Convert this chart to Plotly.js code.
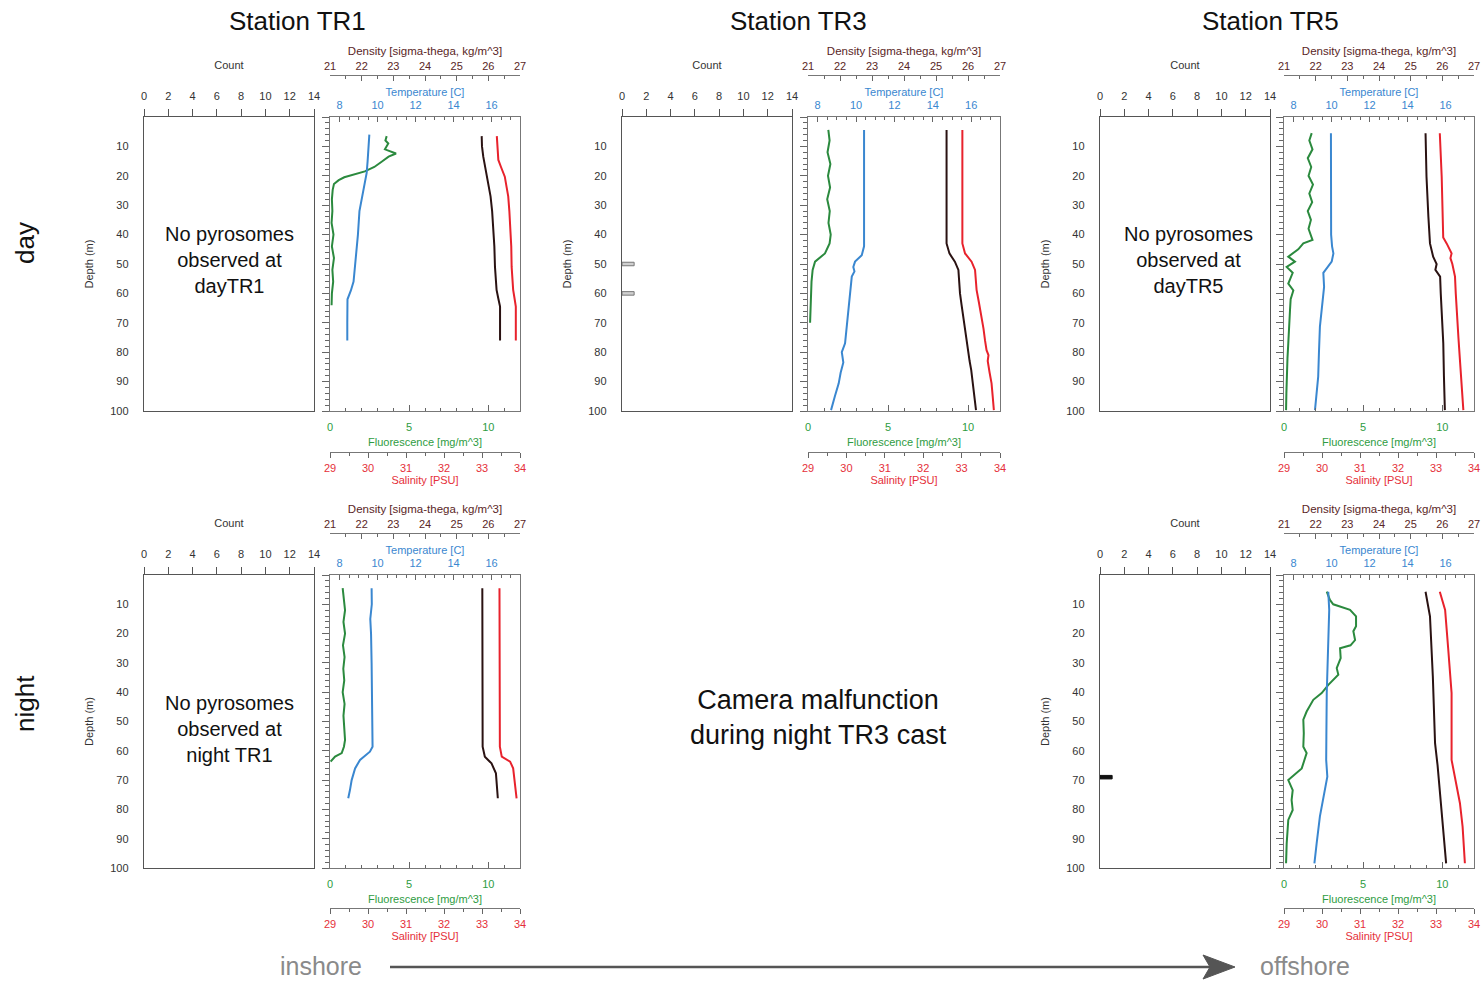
<!DOCTYPE html>
<html><head><meta charset="utf-8">
<script src="https://cdn.plot.ly/plotly-3.0.1.min.js"></script>
<style>html,body{margin:0;padding:0;background:#fff}#chart{width:1484px;height:981px}</style>
</head><body><div id="chart"></div><script>
// ---------------- DATA ----------------
const stations = ['Station TR1', 'Station TR3', 'Station TR5'];
const countTicks = [0, 2, 4, 6, 8, 10, 12, 14];
const depthTicks = [10, 20, 30, 40, 50, 60, 70, 80, 90, 100];

// Day TR1
const dayTR1_fluoDepth = [6.5, 8, 9, 10, 11, 12.4, 13.5, 15.2, 17, 18.5, 19.5, 20.5, 21.5, 22.8, 24.8, 28, 32, 36, 40, 44, 48, 52, 56, 60, 64];
const dayTR1_fluo      = [3.58, 3.5, 3.68, 3.55, 3.47, 4.17, 3.7, 3.26, 2.8, 2.2, 1.6, 0.9, 0.55, 0.25, 0.17, 0.12, 0.15, 0.1, 0.22, 0.12, 0.25, 0.15, 0.2, 0.12, 0.1];
const dayTR1_tempDepth = [6, 10, 15, 19, 25, 32, 40, 50, 56, 59, 62, 70, 76];
const dayTR1_temp      = [9.57, 9.54, 9.48, 9.43, 9.25, 9.05, 8.97, 8.85, 8.74, 8.6, 8.42, 8.41, 8.41];
const dayTR1_densDepth = [6.5, 10, 13.5, 17, 20.3, 24, 27, 32, 37.3, 44, 51, 55, 58.8, 62, 64.5, 70, 76];
const dayTR1_dens      = [25.79, 25.8, 25.84, 25.9, 25.95, 26.02, 26.07, 26.12, 26.16, 26.19, 26.21, 26.23, 26.26, 26.32, 26.37, 26.37, 26.37];
const dayTR1_salDepth  = [6.5, 10, 14.6, 17, 20.3, 24, 27, 32, 37.3, 44, 51, 55, 58.8, 62, 64.5, 70, 76];
const dayTR1_sal       = [33.39, 33.4, 33.43, 33.5, 33.6, 33.65, 33.69, 33.72, 33.75, 33.77, 33.78, 33.8, 33.82, 33.86, 33.89, 33.89, 33.89];

// Day TR3
const dayTR3_fluoDepth = [4.4, 8, 12, 16, 20, 24, 28, 32, 36, 40, 43, 46.4, 49.2, 52, 56, 61, 66, 70];
const dayTR3_fluo      = [1.27, 1.35, 1.22, 1.4, 1.25, 1.38, 1.2, 1.36, 1.28, 1.42, 1.35, 1.06, 0.44, 0.29, 0.22, 0.19, 0.15, 0.13];
const dayTR3_tempDepth = [4.4, 20, 44, 47, 49.2, 51, 52.5, 54.3, 60, 65.6, 72, 77, 80, 83.5, 87, 90.6, 95, 99.7];
const dayTR3_temp      = [10.42, 10.42, 10.42, 10.3, 9.95, 9.86, 9.92, 9.78, 9.7, 9.6, 9.5, 9.43, 9.26, 9.34, 9.2, 9.1, 8.9, 8.7];
const dayTR3_densDepth = [4.4, 43, 46.4, 49.2, 52, 56, 60, 64, 68, 72, 76, 79.3, 83, 86, 90, 95, 99.7];
const dayTR3_dens      = [25.33, 25.33, 25.42, 25.59, 25.7, 25.72, 25.75, 25.8, 25.85, 25.9, 25.96, 26.01, 26.05, 26.1, 26.15, 26.2, 26.25];
const dayTR3_salDepth  = [4.4, 43, 46.4, 49.2, 52, 55, 58.8, 63, 68, 72, 76, 79.3, 81, 83, 87, 90.6, 95, 99.7];
const dayTR3_sal       = [33.02, 33.02, 33.09, 33.26, 33.35, 33.37, 33.39, 33.45, 33.52, 33.57, 33.61, 33.65, 33.7, 33.68, 33.73, 33.78, 33.81, 33.84];
const dayTR3_countDepth = [50, 60];
const dayTR3_count      = [1, 1];

// Day TR5
const dayTR5_fluoDepth = [5.5, 8, 11, 14, 17, 20, 23, 26, 29, 32, 35, 38, 41.8, 43, 45, 47.5, 49.2, 51, 53, 56.7, 59, 62, 65.6, 70, 74, 77, 82, 88, 94, 99.7];
const dayTR5_fluo      = [1.75, 1.6, 1.8, 1.5, 1.72, 1.55, 1.83, 1.6, 1.78, 1.5, 1.7, 1.55, 1.8, 1.22, 0.9, 0.27, 0.69, 0.17, 0.55, 0.27, 0.59, 0.42, 0.38, 0.35, 0.3, 0.27, 0.22, 0.17, 0.15, 0.13];
const dayTR5_tempDepth = [5.5, 20, 40, 44, 46.4, 49.2, 51.5, 53, 57.8, 65, 71.3, 80, 88.3, 95, 99.7];
const dayTR5_temp      = [9.97, 9.98, 9.98, 10.03, 10.1, 10.01, 9.75, 9.57, 9.61, 9.5, 9.39, 9.34, 9.3, 9.2, 9.13];
const dayTR5_densDepth = [5.5, 20.3, 34, 43, 47.5, 50, 52, 54.3, 60, 65.6, 77, 88, 99.7];
const dayTR5_dens      = [25.47, 25.5, 25.56, 25.61, 25.71, 25.82, 25.78, 25.93, 25.95, 25.98, 26.03, 26.05, 26.08];
const dayTR5_salDepth  = [5.5, 20.3, 41, 43, 46.4, 48, 50, 52, 54.3, 60, 65.6, 75, 82.7, 90, 99.7];
const dayTR5_sal       = [33.1, 33.15, 33.19, 33.28, 33.41, 33.38, 33.43, 33.47, 33.5, 33.52, 33.54, 33.59, 33.63, 33.67, 33.72];

// Night TR1
const nightTR1_fluoDepth = [4.5, 8, 12, 16, 20, 24, 28, 32, 36, 40, 44, 48, 52, 56.3, 58.6, 60.8, 62, 63.7];
const nightTR1_fluo      = [0.8, 0.88, 0.95, 0.85, 0.95, 0.82, 0.92, 0.84, 0.9, 0.8, 0.92, 0.85, 0.88, 0.95, 0.88, 0.74, 0.32, 0.04];
const nightTR1_tempDepth = [4.5, 10, 15, 20, 30, 40, 50, 58.6, 60.3, 61.5, 63.1, 66, 70, 73.4, 76.2];
const nightTR1_temp      = [9.69, 9.7, 9.62, 9.66, 9.69, 9.7, 9.72, 9.74, 9.6, 9.35, 9.08, 8.82, 8.64, 8.55, 8.46];
const nightTR1_densDepth = [4.5, 30, 58.6, 62, 64.3, 67.7, 74.5, 76.2];
const nightTR1_dens      = [25.81, 25.81, 25.82, 25.89, 26.1, 26.24, 26.29, 26.3];
const nightTR1_salDepth  = [4.5, 30, 58.6, 62, 63.7, 66, 70, 74.5, 76.2];
const nightTR1_sal       = [33.46, 33.46, 33.47, 33.52, 33.74, 33.82, 33.86, 33.89, 33.91];

// Night TR5
const nightTR5_fluoDepth = [5.7, 8.5, 10, 11.9, 14.1, 17.5, 19.2, 22.2, 24, 25, 28.4, 31.8, 34, 37.5, 40.3, 42.6, 46.6, 49.4, 54, 58.6, 60.8, 64.3, 66, 70, 73.4, 76.8, 80.2, 83.6, 87, 91.6, 95, 98.4];
const nightTR5_fluo      = [2.7, 2.9, 3.11, 4.17, 4.55, 4.55, 4.38, 4.49, 4.2, 3.54, 3.58, 3.33, 3.43, 2.8, 2.38, 1.85, 1.43, 1.22, 1.25, 1.22, 1.43, 1.22, 1.12, 0.27, 0.55, 0.48, 0.55, 0.27, 0.22, 0.17, 0.15, 0.13];
const nightTR5_tempDepth = [5.7, 11.9, 25, 40.3, 55, 63.1, 68.8, 74.5, 82.4, 91.5, 98.4];
const nightTR5_temp      = [9.83, 9.88, 9.82, 9.75, 9.73, 9.72, 9.78, 9.6, 9.39, 9.22, 9.1];
const nightTR5_densDepth = [5.7, 14.1, 34.6, 57.4, 65, 74.5, 85.9, 98.4];
const nightTR5_dens      = [25.47, 25.61, 25.7, 25.77, 25.85, 25.93, 26.03, 26.12];
const nightTR5_salDepth  = [5.7, 11.9, 25, 40.3, 63.1, 68.8, 77.9, 85.9, 98.4];
const nightTR5_sal       = [33.1, 33.24, 33.32, 33.41, 33.41, 33.5, 33.63, 33.7, 33.76];
const nightTR5_countDepth = [69];
const nightTR5_count      = [1];

// ---------------- LAYOUT ----------------
const W = 1484, H = 981;
const FONT = '"Liberation Sans", Arial, sans-serif';
const LC = {dens: '#2a1212', temp: '#3a87d0', fluo: '#2b8a3e', sal: '#e8222c'};
const TC = {dens: '#5a2626', temp: '#3a87d0', fluo: '#2e9c42', sal: '#e5303a'};
const px = v => v / W, py = v => 1 - v / H;

const panels = [
  {fluo:[dayTR1_fluoDepth,dayTR1_fluo], temp:[dayTR1_tempDepth,dayTR1_temp], dens:[dayTR1_densDepth,dayTR1_dens], sal:[dayTR1_salDepth,dayTR1_sal], bars:null,
   cx:[144,314], pxr:[330,520], yr:[117,411], densY:75, salY:452},
  {fluo:[dayTR3_fluoDepth,dayTR3_fluo], temp:[dayTR3_tempDepth,dayTR3_temp], dens:[dayTR3_densDepth,dayTR3_dens], sal:[dayTR3_salDepth,dayTR3_sal], bars:[dayTR3_countDepth,dayTR3_count,'#cfcfcf','#777'],
   cx:[622,792], pxr:[808,1000], yr:[117,411], densY:75, salY:452},
  {fluo:[dayTR5_fluoDepth,dayTR5_fluo], temp:[dayTR5_tempDepth,dayTR5_temp], dens:[dayTR5_densDepth,dayTR5_dens], sal:[dayTR5_salDepth,dayTR5_sal], bars:null,
   cx:[1100,1270], pxr:[1284,1474], yr:[117,411], densY:75, salY:452},
  {fluo:[nightTR1_fluoDepth,nightTR1_fluo], temp:[nightTR1_tempDepth,nightTR1_temp], dens:[nightTR1_densDepth,nightTR1_dens], sal:[nightTR1_salDepth,nightTR1_sal], bars:null,
   cx:[144,314], pxr:[330,520], yr:[575,868], densY:533, salY:908},
  {fluo:[nightTR5_fluoDepth,nightTR5_fluo], temp:[nightTR5_tempDepth,nightTR5_temp], dens:[nightTR5_densDepth,nightTR5_dens], sal:[nightTR5_salDepth,nightTR5_sal], bars:[nightTR5_countDepth,nightTR5_count,'#111','#111'],
   cx:[1100,1270], pxr:[1284,1474], yr:[575,868], densY:533, salY:908}
];

const xk = n => n === 1 ? 'xaxis' : 'xaxis' + n;
const xi = n => n === 1 ? 'x' : 'x' + n;
const yk = n => n === 1 ? 'yaxis' : 'yaxis' + n;
const yi = n => n === 1 ? 'y' : 'y' + n;

const layout = {
  width: W, height: H, margin: {l:0, r:0, t:0, b:0},
  paper_bgcolor: '#fff', plot_bgcolor: 'rgba(0,0,0,0)',
  showlegend: false, font: {family: FONT, color: '#333'},
  annotations: [], shapes: []
};
const traces = [];
const tf = (c, s) => ({family: FONT, size: s || 11, color: c});

panels.forEach((p, i) => {
  const cX = 5*i+1, fX = 5*i+2, tX = 5*i+3, dX = 5*i+4, sX = 5*i+5;
  const cY = 2*i+1, pY = 2*i+2;
  const ydom = [py(p.yr[1]), py(p.yr[0])];
  const pdom = [px(p.pxr[0]), px(p.pxr[1])];
  // Count subplot
  layout[xk(cX)] = {domain:[px(p.cx[0]), px(p.cx[1])], anchor: yi(cY), side:'top', range:[0,14],
    tickvals: countTicks, ticks:'outside', ticklen:7, tickcolor:'#555', showline:true, mirror:true, linecolor:'#555', linewidth:1.2,
    showgrid:false, zeroline:false, tickfont: tf('#333',11), ticklabelstandoff: 4,
    title:{text:'Count', font: tf('#333',11), standoff: 18}, fixedrange:true};
  layout[yk(cY)] = {domain: ydom, anchor: xi(cX), range:[100,0], tickvals: depthTicks, ticks:'', showline:true, mirror:true,
    linecolor:'#555', linewidth:1.2, showgrid:false, zeroline:false, tickfont: tf('#333',11), ticklabelstandoff: 12,
    title:{text:'Depth (m)', font: tf('#333',11), standoff: 14}, fixedrange:true};
  traces.push({type:'scatter', x:[], y:[], xaxis: xi(cX), yaxis: yi(cY), hoverinfo:'skip'});
  if (p.bars) {
    traces.push({type:'bar', orientation:'h', x: p.bars[1], y: p.bars[0], width: 1.2, xaxis: xi(cX), yaxis: yi(cY),
      marker:{color: p.bars[2], line:{color: p.bars[3], width:1}}});
  }
  // Profile subplot
  const common = {showgrid:false, zeroline:false, showline:true, linecolor:'#777', linewidth:1.2, fixedrange:true};
  layout[xk(fX)] = Object.assign({}, common, {domain: pdom, anchor: yi(pY), side:'bottom', range:[0,12], tick0:0, dtick:5,
    ticks:'inside', ticklen:6, tickcolor:'#666', minor:{dtick:1, ticks:'inside', ticklen:3, tickcolor:'#666'},
    tickfont: tf(TC.fluo,11), ticklabelstandoff: 6, title:{text:'Fluorescence [mg/m^3]', font: tf(TC.fluo,11), standoff: 5}});
  layout[xk(tX)] = Object.assign({}, common, {domain: pdom, anchor: yi(pY), overlaying: xi(fX), side:'top', range:[7.5,17.5], tick0:0, dtick:2,
    ticks:'inside', ticklen:5, tickcolor:'#666', minor:{dtick:0.5, ticks:'inside', ticklen:3, tickcolor:'#666'},
    tickfont: tf(TC.temp,11), ticklabelstandoff: 2, title:{text:'Temperature [C]', font: tf(TC.temp,11), standoff: 0}});
  layout[xk(dX)] = Object.assign({}, common, {domain: pdom, anchor:'free', position: py(p.densY), overlaying: xi(fX), side:'top', range:[21,27], dtick:1,
    ticks:'inside', ticklen:5, tickcolor:'#666', minor:{dtick:0.5, ticks:'inside', ticklen:3, tickcolor:'#666'},
    tickfont: tf(TC.dens,11), ticklabelstandoff: 1, title:{text:'Density [sigma-thega, kg/m^3]', font: tf(TC.dens,11.5), standoff: 0}});
  layout[xk(sX)] = Object.assign({}, common, {domain: pdom, anchor:'free', position: py(p.salY), overlaying: xi(fX), side:'bottom', range:[29,34], dtick:1,
    ticks:'outside', ticklen:5, tickcolor:'#666', minor:{dtick:0.5, ticks:'outside', ticklen:3, tickcolor:'#666'},
    tickfont: tf(TC.sal,11), ticklabelstandoff: 1, title:{text:'Salinity [PSU]', font: tf(TC.sal,11), standoff: 1}});
  layout[yk(pY)] = Object.assign({}, common, {domain: ydom, anchor: xi(fX), range:[100,0], dtick:10, tick0:0, showticklabels:false,
    ticks:'outside', ticklen:7, tickcolor:'#666', mirror:true, minor:{dtick:2, ticks:'outside', ticklen:4, tickcolor:'#666'}});
  const ln = (c) => ({color:c, width:2});
  traces.push({type:'scatter', mode:'lines', x: p.temp[1], y: p.temp[0], xaxis: xi(tX), yaxis: yi(pY), line: ln(LC.temp)});
  traces.push({type:'scatter', mode:'lines', x: p.fluo[1], y: p.fluo[0], xaxis: xi(fX), yaxis: yi(pY), line: ln(LC.fluo)});
  traces.push({type:'scatter', mode:'lines', x: p.dens[1], y: p.dens[0], xaxis: xi(dX), yaxis: yi(pY), line: ln(LC.dens)});
  traces.push({type:'scatter', mode:'lines', x: p.sal[1], y: p.sal[0], xaxis: xi(sX), yaxis: yi(pY), line: ln(LC.sal)});
});

const ann = (text, x, y, size, color, extra) => Object.assign({text, x: px(x), y: py(y), xref:'paper', yref:'paper',
  showarrow:false, xanchor:'center', yanchor:'middle', font:{family: FONT, size, color}}, extra || {});
layout.annotations.push(
  ann(stations[0], 297, 21, 26, '#111'),
  ann(stations[1], 798, 21, 26, '#111'),
  ann(stations[2], 1270, 21, 26, '#111'),
  ann('day', 25, 243, 26, '#111', {textangle:-90}),
  ann('night', 25, 703, 26, '#111', {textangle:-90}),
  ann('No pyrosomes<br>observed at<br>dayTR1', 229, 260, 20, '#111'),
  ann('No pyrosomes<br>observed at<br>dayTR5', 1188, 260, 20, '#111'),
  ann('No pyrosomes<br>observed at<br>night TR1', 229, 729, 20, '#111'),
  ann('Camera malfunction<br>during night TR3 cast', 818, 717, 27, '#111'),
  ann('inshore', 321, 966, 25, '#8a8a8a'),
  ann('offshore', 1305, 966, 25, '#8a8a8a')
);
layout.shapes.push(
  {type:'line', xref:'paper', yref:'paper', x0: px(390), x1: px(1215), y0: py(967), y1: py(967), line:{color:'#555', width:2.5}},
  {type:'path', xref:'paper', yref:'paper', fillcolor:'#555', line:{color:'#555', width:1},
   path: `M ${px(1203)} ${py(955)} L ${px(1235)} ${py(967)} L ${px(1203)} ${py(979)} L ${px(1210)} ${py(967)} Z`}
);

Plotly.newPlot('chart', traces, layout, {staticPlot:true});
</script></body></html>
